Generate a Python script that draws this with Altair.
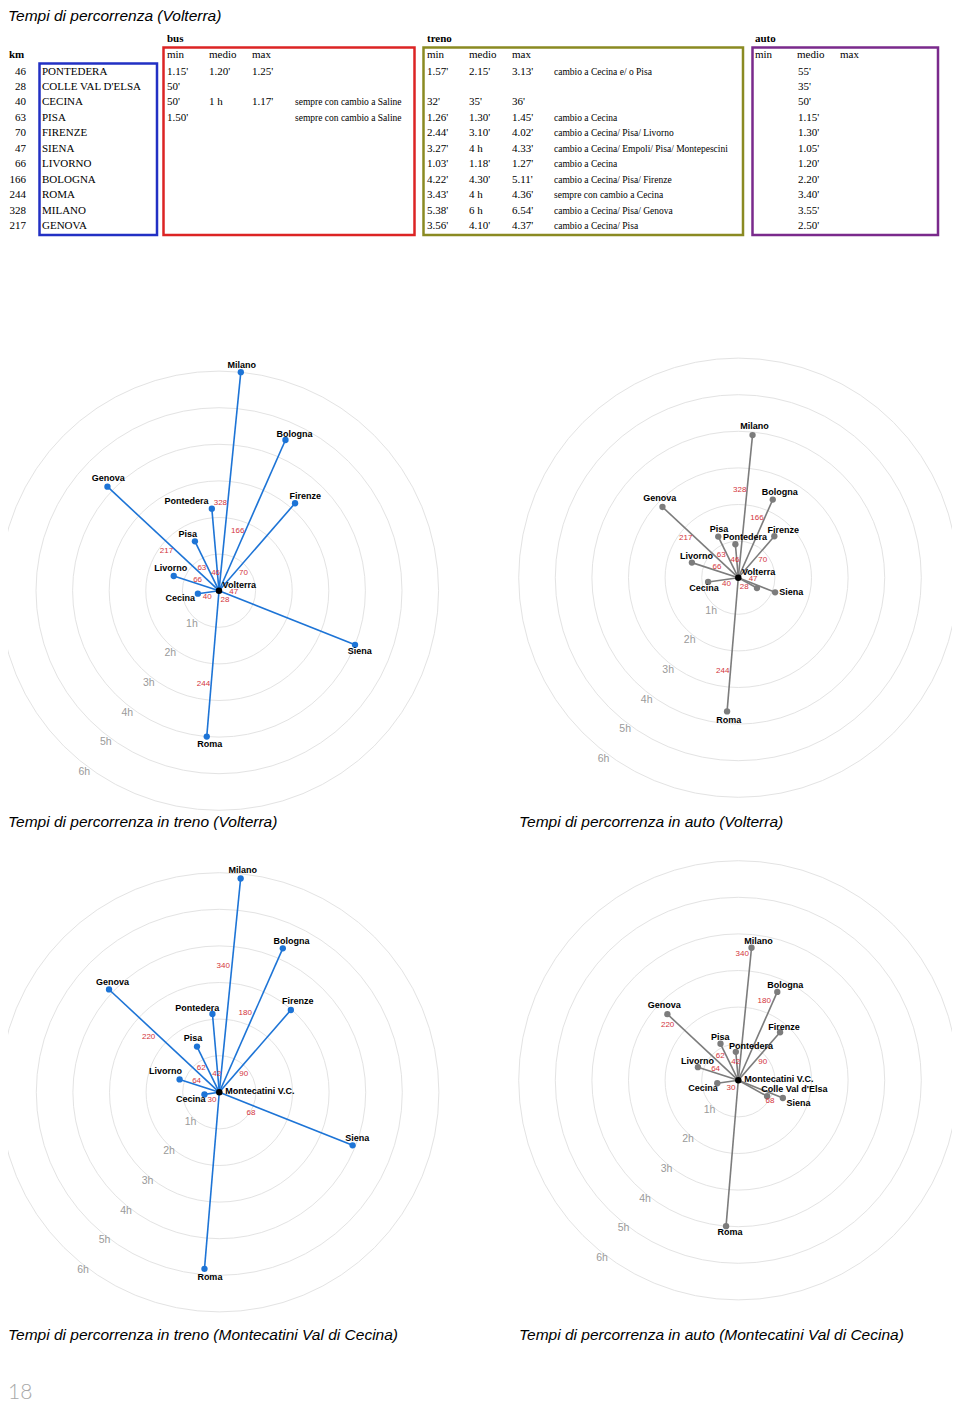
import altair as alt
import pandas as pd

# ------------------------------------------------------------------ data: table
TABLE_KM = [46, 28, 40, 63, 70, 47, 66, 166, 244, 328, 217]
TABLE_CITY = ["PONTEDERA", "COLLE VAL D'ELSA", "CECINA", "PISA", "FIRENZE", "SIENA",
              "LIVORNO", "BOLOGNA", "ROMA", "MILANO", "GENOVA"]
BUS_MIN = ["1.15'", "50'", "50'", "1.50'", "", "", "", "", "", "", ""]
BUS_MEDIO = ["1.20'", "", "1 h", "", "", "", "", "", "", "", ""]
BUS_MAX = ["1.25'", "", "1.17'", "", "", "", "", "", "", "", ""]
BUS_NOTE = ["", "", "sempre con cambio a Saline", "sempre con cambio a Saline",
            "", "", "", "", "", "", ""]
TRENO_MIN = ["1.57'", "", "32'", "1.26'", "2.44'", "3.27'", "1.03'", "4.22'", "3.43'", "5.38'", "3.56'"]
TRENO_MEDIO = ["2.15'", "", "35'", "1.30'", "3.10'", "4 h", "1.18'", "4.30'", "4 h", "6 h", "4.10'"]
TRENO_MAX = ["3.13'", "", "36'", "1.45'", "4.02'", "4.33'", "1.27'", "5.11'", "4.36'", "6.54'", "4.37'"]
TRENO_NOTE = ["cambio a Cecina e/ o Pisa", "", "", "cambio a Cecina",
              "cambio a Cecina/ Pisa/ Livorno", "cambio a Cecina/ Empoli/ Pisa/ Montepescini",
              "cambio a Cecina", "cambio a Cecina/ Pisa/ Firenze", "sempre con cambio a Cecina",
              "cambio a Cecina/ Pisa/ Genova", "cambio a Cecina/ Pisa"]
AUTO_MEDIO = ["55'", "35'", "50'", "1.15'", "1.30'", "1.05'", "1.20'", "2.20'", "3.40'", "3.55'", "2.50'"]

# ------------------------------------------------------------------ data: radial charts
CITIES = ["Pontedera", "Colle Val d'Elsa", "Cecina", "Pisa", "Firenze", "Siena",
          "Livorno", "Bologna", "Roma", "Milano", "Genova"]
BEARING_DEG = [-5.0, 119.0, -98.0, -26.0, 41.0, 111.7, -72.0, 23.8, 184.8, 5.7, -47.0]
KM_VOLTERRA = [46, 28, 40, 63, 70, 47, 66, 166, 244, 328, 217]
KM_MONTECATINI = [42, None, 30, 62, 90, 68, 64, 180, None, 340, 220]
TRENO_VOLTERRA_H = [2.25, None, 0.583, 1.5, 3.167, 4.0, 1.3, 4.5, 4.0, 6.0, 4.167]
AUTO_VOLTERRA_H = [0.917, 0.583, 0.833, 1.25, 1.5, 1.083, 1.333, 2.333, 3.667, 3.917, 2.833]
TRENO_MONTECATINI_H = [2.15, None, 0.41, 1.39, 2.98, 3.92, 1.14, 4.3, 4.84, 5.87, 4.12]
AUTO_MONTECATINI_H = [0.78, 0.9, 0.58, 1.11, 1.74, 1.31, 1.16, 2.64, 4.0, 3.64, 2.65]
RING_HOURS = [1, 2, 3, 4, 5, 6]
RING_LABELS = ["1h", "2h", "3h", "4h", "5h", "6h"]

TITLE = "Tempi di percorrenza (Volterra)"
CAPTIONS = ["Tempi di percorrenza in treno (Volterra)", "Tempi di percorrenza in auto (Volterra)",
            "Tempi di percorrenza in treno (Montecatini Val di Cecina)",
            "Tempi di percorrenza in auto (Montecatini Val di Cecina)"]
PAGE_NUMBER = "18"

# ------------------------------------------------------------------ layout / style
W, H = 944, 1396
X_OFF, Y_OFF = 8, 8             # page position of the drawing's top-left corner
PX_PER_HOUR = 36.6
SERIF = "Liberation Serif"
SANS = "Liberation Sans"
BLUE = "#1d74d6"
GRAY = "#7c7c7c"
RED = "#d3353d"

ROW_Y0, ROW_STEP = 71.5, 15.45
HEAD_Y, GROUP_Y = 55, 39

# (label offsets are in pixels, relative to the data-derived anchor)
KM_POS_V = {"Pontedera": (18.4, -1.8), "Colle Val d'Elsa": (9.7, 5.1), "Cecina": (12.5, -4.2),
            "Pisa": (27.6, -5.6), "Firenze": (29.7, 6.6), "Siena": (14.4, -3.9),
            "Livorno": (23.8, 4.0), "Bologna": (61.8, -6.8), "Roma": (94.1, 7.7),
            "Milano": (87.2, -7.3), "Genova": (65.3, -7.1)}
KM_POS_M = {"Pontedera": (18.0, -1.0), "Cecina": (8.4, -6.7), "Pisa": (29.6, -5.7),
            "Firenze": (30.0, 6.4), "Siena": (37.0, 7.1), "Livorno": (25.1, 3.8),
            "Bologna": (83.2, -8.4), "Milano": (126.2, -8.7), "Genova": (89.3, -7.9)}
NAME_OFF = {
    "tv": {"Pontedera": (-25.3, -7.6), "Cecina": (-17.7, 4.7), "Pisa": (-7.3, -7.6),
           "Firenze": (10.3, -7.3), "Siena": (4.7, 6.0), "Livorno": (-3.0, -7.7),
           "Bologna": (9.0, -6.3), "Roma": (3.0, 7.0), "Milano": (1.0, -7.3), "Genova": (0.7, -8.3)},
    "av": {"Pontedera": (9.7, -7.6), "Cecina": (-4.0, 5.6), "Pisa": (0.7, -7.4),
           "Firenze": (9.0, -6.0), "Siena": (16.0, -0.7), "Livorno": (4.7, -7.0),
           "Bologna": (7.0, -7.7), "Roma": (1.6, 8.3), "Milano": (2.0, -9.0), "Genova": (-2.7, -8.6)},
    "tm": {"Pontedera": (-15.3, -6.0), "Cecina": (-13.7, 4.3), "Pisa": (-4.0, -9.0),
           "Firenze": (7.0, -8.7), "Siena": (4.6, -7.6), "Livorno": (-14.0, -8.0),
           "Bologna": (8.7, -7.6), "Roma": (5.4, 8.3), "Milano": (2.0, -9.0), "Genova": (3.6, -7.3)},
    "am": {"Pontedera": (15.3, -6.3), "Colle Val d'Elsa": (27.3, -7.7), "Cecina": (-14.3, 5.0),
           "Pisa": (-0.3, -6.4), "Firenze": (4.0, -5.6), "Siena": (15.6, 5.0),
           "Livorno": (-0.4, -6.0), "Bologna": (8.0, -7.3), "Roma": (4.0, 5.7),
           "Milano": (7.0, -7.0), "Genova": (-3.0, -9.0)},
}
CHARTS = [
    dict(key="tv", hours=TRENO_VOLTERRA_H, km=KM_VOLTERRA, kmpos=KM_POS_V, center="Volterra",
         cx=219.0, cy=590.7, color=BLUE, ring_off=(-5.6, 3.4), center_off=(3.6, -5.3)),
    dict(key="av", hours=AUTO_VOLTERRA_H, km=KM_VOLTERRA, kmpos=KM_POS_V, center="Volterra",
         cx=738.3, cy=577.7, color=GRAY, ring_off=(-5.6, 3.4), center_off=(3.6, -5.3)),
    dict(key="tm", hours=TRENO_MONTECATINI_H, km=KM_MONTECATINI, kmpos=KM_POS_M, center="Montecatini V.C.",
         cx=219.3, cy=1092.3, color=BLUE, ring_off=(-7.2, -0.2), center_off=(6.0, -1.5)),
    dict(key="am", hours=AUTO_MONTECATINI_H, km=KM_MONTECATINI, kmpos=KM_POS_M, center="Montecatini V.C.",
         cx=738.3, cy=1080.3, color=GRAY, ring_off=(-7.2, -0.2), center_off=(6.0, -1.5)),
]
CAPTION_POS = [(8, 822), (519, 822), (8, 1335), (519, 1335)]

XS = alt.Scale(domain=[X_OFF, X_OFF + W], range=[0, W])
YS = alt.Scale(domain=[Y_OFF, Y_OFF + H], range=[0, H])


def X(f):
    return alt.X(f, type="quantitative", scale=XS, axis=None)


def Y(f):
    return alt.Y(f, type="quantitative", scale=YS, axis=None)


def text_layer(df, size, font=SERIF, weight="normal", align="left", color="black", style="normal"):
    return alt.Chart(df).mark_text(align=align, baseline="middle", fontSize=size, font=font,
                                   fontWeight=weight, fontStyle=style, color=color).encode(
        x=X("x"), y=Y("y"), text="text:N")


layers = []

# ------------------------------------------------------------------ title / captions
layers.append(text_layer(pd.DataFrame([dict(x=8, y=Y_OFF + 7.5, text=TITLE)]), 15.5, font=SANS, style="italic"))
layers.append(text_layer(pd.DataFrame([dict(x=p[0], y=p[1], text=t) for p, t in zip(CAPTION_POS, CAPTIONS)]),
                         15.5, font=SANS, style="italic"))
layers.append(text_layer(pd.DataFrame([dict(x=8, y=1393, text=PAGE_NUMBER)]), 21, font="Lato",
                         weight=300, color="#a8a8a8"))

# ------------------------------------------------------------------ table
row_y = [ROW_Y0 + ROW_STEP * i for i in range(len(TABLE_CITY))]
body_cols = [(TABLE_CITY, 42), (BUS_MIN, 167), (BUS_MEDIO, 209), (BUS_MAX, 252),
             (TRENO_MIN, 427), (TRENO_MEDIO, 469), (TRENO_MAX, 512),
             (AUTO_MEDIO, 798)]
body = [dict(x=cx, y=row_y[i], text=v) for col, cx in body_cols for i, v in enumerate(col) if v]
notes = [dict(x=cx, y=row_y[i], text=v) for col, cx in [(BUS_NOTE, 295), (TRENO_NOTE, 554)]
         for i, v in enumerate(col) if v]
kmcol = [dict(x=26, y=row_y[i], text=str(v)) for i, v in enumerate(TABLE_KM)]
heads = [dict(x=cx, y=HEAD_Y, text=t) for base in (167, 427, 755)
         for cx, t in zip((base, base + 42, base + 85), ("min", "medio", "max"))]
groups = [dict(x=167, y=GROUP_Y, text="bus"), dict(x=427, y=GROUP_Y, text="treno"),
          dict(x=755, y=GROUP_Y, text="auto"), dict(x=9, y=HEAD_Y, text="km")]

layers.append(text_layer(pd.DataFrame(body), 11))
layers.append(text_layer(pd.DataFrame(notes), 9.5))
layers.append(text_layer(pd.DataFrame(kmcol), 11, align="right"))
layers.append(text_layer(pd.DataFrame(heads), 11))
layers.append(text_layer(pd.DataFrame(groups), 11, weight="bold"))

top_y, bot_y = row_y[0] - 8, row_y[-1] + 9
boxes = pd.DataFrame([
    dict(x=39.5, x2=157, y=top_y, y2=bot_y, c="#2230c4"),
    dict(x=163.5, x2=414.5, y=HEAD_Y - 7.5, y2=bot_y, c="#dc2424"),
    dict(x=423.5, x2=743, y=HEAD_Y - 7.5, y2=bot_y, c="#8a8a22"),
    dict(x=752.5, x2=938, y=HEAD_Y - 7.5, y2=bot_y, c="#7a2a8c"),
])
layers.append(alt.Chart(boxes).mark_rect(filled=False, strokeWidth=2.5).encode(
    x=X("x"), x2="x2", y=Y("y"), y2="y2", stroke=alt.Stroke("c:N", scale=None)))

# ------------------------------------------------------------------ radial charts
ring_rows, city_rows, km_rows, center_rows = [], [], [], []
for ch in CHARTS:
    for h, lab in zip(RING_HOURS, RING_LABELS):
        ring_rows.append(dict(cx=ch["cx"], cy=ch["cy"], h=h, text=lab,
                              ox=ch["ring_off"][0], oy=ch["ring_off"][1]))
    for i, c in enumerate(CITIES):
        hv = ch["hours"][i]
        if hv is not None:
            off = NAME_OFF[ch["key"]].get(c)
            city_rows.append(dict(cx=ch["cx"], cy=ch["cy"], h=hv, b=BEARING_DEG[i], city=c,
                                  color=ch["color"], show=off is not None,
                                  ndx=off[0] if off else 0.0, ndy=off[1] if off else 0.0))
        kmv = ch["km"][i]
        if kmv is not None and c in ch["kmpos"]:
            a, p = ch["kmpos"][c]
            km_rows.append(dict(cx=ch["cx"], cy=ch["cy"], b=BEARING_DEG[i], along=a, perp=p,
                                text=str(kmv)))
    center_rows.append(dict(cx=ch["cx"], cy=ch["cy"], text=ch["center"],
                            dx=ch["center_off"][0], dy=ch["center_off"][1]))

rings = pd.DataFrame(ring_rows)
cities = pd.DataFrame(city_rows)
kms = pd.DataFrame(km_rows)
centers = pd.DataFrame(center_rows)
K = PX_PER_HOUR

ring_base = alt.Chart(rings).transform_calculate(
    size=f"pow(2 * {K} * datum.h, 2)",
    lx=f"datum.cx + {K} * datum.h * sin(216 * PI / 180) + datum.ox",
    ly=f"datum.cy - {K} * datum.h * cos(216 * PI / 180) + datum.oy",
)
layers.append(ring_base.mark_point(shape="circle", filled=False, stroke="#e3e3e3", strokeWidth=1,
                                   opacity=1).encode(
    x=X("cx"), y=Y("cy"), size=alt.Size("size:Q", scale=None)))
layers.append(ring_base.mark_text(fontSize=10.5, font=SANS, color="#9a9a9a", align="center",
                                  baseline="middle").encode(x=X("lx"), y=Y("ly"), text="text:N"))

city_base = alt.Chart(cities).transform_calculate(
    px=f"datum.cx + {K} * datum.h * sin(datum.b * PI / 180)",
    py=f"datum.cy - {K} * datum.h * cos(datum.b * PI / 180)",
).transform_calculate(
    lx="datum.px + datum.ndx",
    ly="datum.py + datum.ndy",
)
layers.append(city_base.mark_rule(strokeWidth=1.6).encode(
    x=X("cx"), y=Y("cy"), x2="px:Q", y2="py:Q", color=alt.Color("color:N", scale=None)))
layers.append(city_base.mark_circle(size=40, opacity=1).encode(
    x=X("px"), y=Y("py"), color=alt.Color("color:N", scale=None)))

layers.append(alt.Chart(centers).mark_circle(size=42, opacity=1, color="black").encode(
    x=X("cx"), y=Y("cy")))

km_base = alt.Chart(kms).transform_calculate(
    kx="datum.cx + datum.along * sin(datum.b * PI / 180) + datum.perp * cos(datum.b * PI / 180)",
    ky="datum.cy - datum.along * cos(datum.b * PI / 180) + datum.perp * sin(datum.b * PI / 180)",
)
layers.append(km_base.mark_text(fontSize=8, font=SANS, color=RED, align="center",
                                baseline="middle").encode(x=X("kx"), y=Y("ky"), text="text:N"))

layers.append(city_base.transform_filter("datum.show").mark_text(
    fontSize=9, font=SANS, fontWeight="bold", color="black", align="center", baseline="middle").encode(
    x=X("lx"), y=Y("ly"), text="city:N"))

layers.append(alt.Chart(centers).transform_calculate(
    lx="datum.cx + datum.dx", ly="datum.cy + datum.dy").mark_text(
    fontSize=9, font=SANS, fontWeight="bold", color="black", align="left", baseline="middle").encode(
    x=X("lx"), y=Y("ly"), text="text:N"))

chart = alt.layer(*layers).properties(
    width=W, height=H, padding=0, autosize=alt.AutoSizeParams(type="none"),
    background="white",
).configure_view(stroke=None)

chart.save("out.html", embed_options={"renderer": "svg", "actions": False})
